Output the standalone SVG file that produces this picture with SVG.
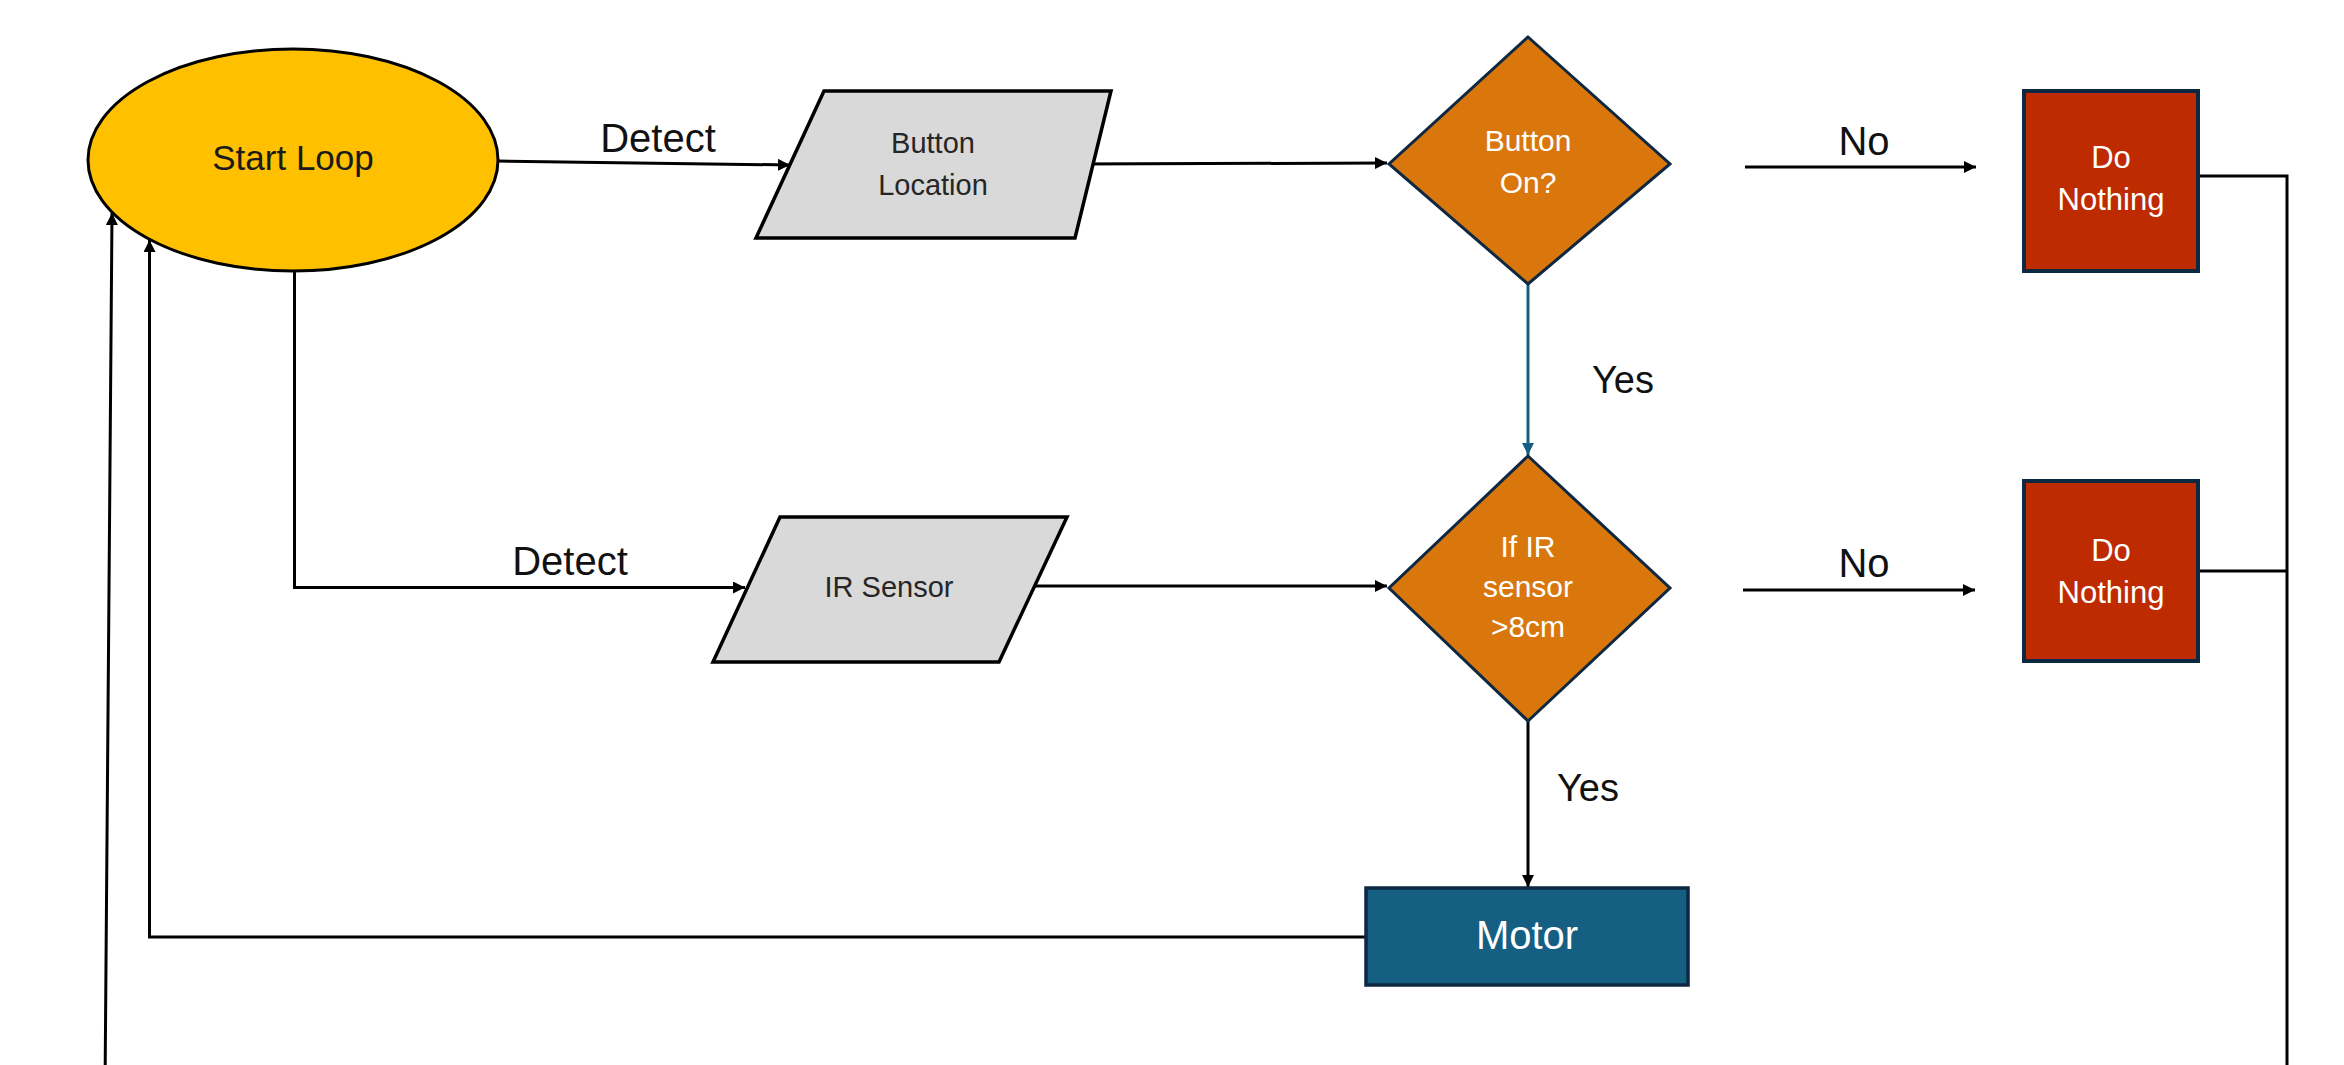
<svg xmlns="http://www.w3.org/2000/svg" width="2344" height="1065" viewBox="0 0 2344 1065">
<defs>
<style>
.lbl{font-family:"Liberation Sans",Arial,sans-serif;fill:#111;text-anchor:middle}
.ntxt{font-family:"Liberation Sans",Arial,sans-serif;text-anchor:middle;dominant-baseline:middle}
.w{fill:#fff}
.d{fill:#262626}
.conn{fill:none;stroke:#000;stroke-width:3}
.para{fill:#D9D9D9;stroke:#000;stroke-width:3.5}
.dia{fill:#D9770C;stroke:#0E2841;stroke-width:3}
.red{fill:#BE2B01;stroke:#0E2841;stroke-width:4}
</style>
<marker id="ah" viewBox="0 0 10 10" refX="10" refY="5" markerWidth="4" markerHeight="4" orient="auto" markerUnits="strokeWidth"><path d="M0,0 L10,5 L0,10 z" fill="#000"/></marker>
<marker id="ahb" viewBox="0 0 10 10" refX="10" refY="5" markerWidth="4" markerHeight="4" orient="auto" markerUnits="strokeWidth"><path d="M0,0 L10,5 L0,10 z" fill="#156082"/></marker>
</defs>
<rect width="2344" height="1065" fill="#fff"/>
<g id="connectors">
<path class="conn" d="M498,161 L790,165" marker-end="url(#ah)"/>
<path class="conn" d="M294.5,271 V587.5 H745" marker-end="url(#ah)"/>
<path class="conn" d="M1078,164 L1387,163" marker-end="url(#ah)"/>
<path class="conn" d="M1033,586 L1387,586" marker-end="url(#ah)"/>
<path class="conn" d="M1745,167 H1976" marker-end="url(#ah)"/>
<path class="conn" d="M1743,590 H1975" marker-end="url(#ah)"/>
<path d="M1528,284 V455" fill="none" stroke="#156082" stroke-width="3" marker-end="url(#ahb)"/>
<path class="conn" d="M1528,721 V887" marker-end="url(#ah)"/>
<path class="conn" d="M1366,937 H149.5 V240" marker-end="url(#ah)"/>
<path class="conn" d="M2198,176 H2287 V1090 H105 L112,213" marker-end="url(#ah)"/>
<path class="conn" d="M2198,571 H2287"/>
<text class="lbl" x="658" y="152" font-size="40">Detect</text>
<text class="lbl" x="570" y="575" font-size="40">Detect</text>
<text class="lbl" x="1864" y="155" font-size="40">No</text>
<text class="lbl" x="1864" y="577" font-size="40">No</text>
<text class="lbl" x="1623" y="393" font-size="38">Yes</text>
<text class="lbl" x="1588" y="801" font-size="38">Yes</text>
</g>
<g id="start">
<ellipse cx="293" cy="160" rx="205" ry="111" fill="#FFC000" stroke="#000" stroke-width="3"/>
<text class="ntxt" x="293" y="161" font-size="35" fill="#1a1a1a">Start Loop</text>
</g>
<g id="button-location">
<polygon class="para" points="824,91 1111,91 1075,238 756,238"/>
<text class="ntxt d" x="933" y="145" font-size="29">Button</text>
<text class="ntxt d" x="933" y="187" font-size="29">Location</text>
</g>
<g id="ir-sensor">
<polygon class="para" points="780,517 1067,517 999,662 713,662"/>
<text class="ntxt d" x="889" y="589" font-size="29">IR Sensor</text>
</g>
<g id="button-on">
<polygon class="dia" points="1528,37 1670,164 1528,284 1389,164"/>
<text class="ntxt w" x="1528" y="143" font-size="30">Button</text>
<text class="ntxt w" x="1528" y="185" font-size="30">On?</text>
</g>
<g id="ir-check">
<polygon class="dia" points="1528,456 1670,588 1528,721 1389,588"/>
<text class="ntxt w" x="1528" y="549" font-size="30">If  IR</text>
<text class="ntxt w" x="1528" y="589" font-size="30">sensor</text>
<text class="ntxt w" x="1528" y="629" font-size="30">&gt;8cm</text>
</g>
<g id="do-nothing-1">
<rect class="red" x="2024" y="91" width="174" height="180"/>
<text class="ntxt w" x="2111" y="160" font-size="31">Do</text>
<text class="ntxt w" x="2111" y="202" font-size="31">Nothing</text>
</g>
<g id="do-nothing-2">
<rect class="red" x="2024" y="481" width="174" height="180"/>
<text class="ntxt w" x="2111" y="553" font-size="31">Do</text>
<text class="ntxt w" x="2111" y="595" font-size="31">Nothing</text>
</g>
<g id="motor">
<rect x="1366" y="888" width="322" height="97" fill="#156082" stroke="#0E2841" stroke-width="3.5"/>
<text class="ntxt w" x="1527" y="938" font-size="40">Motor</text>
</g>
</svg>
